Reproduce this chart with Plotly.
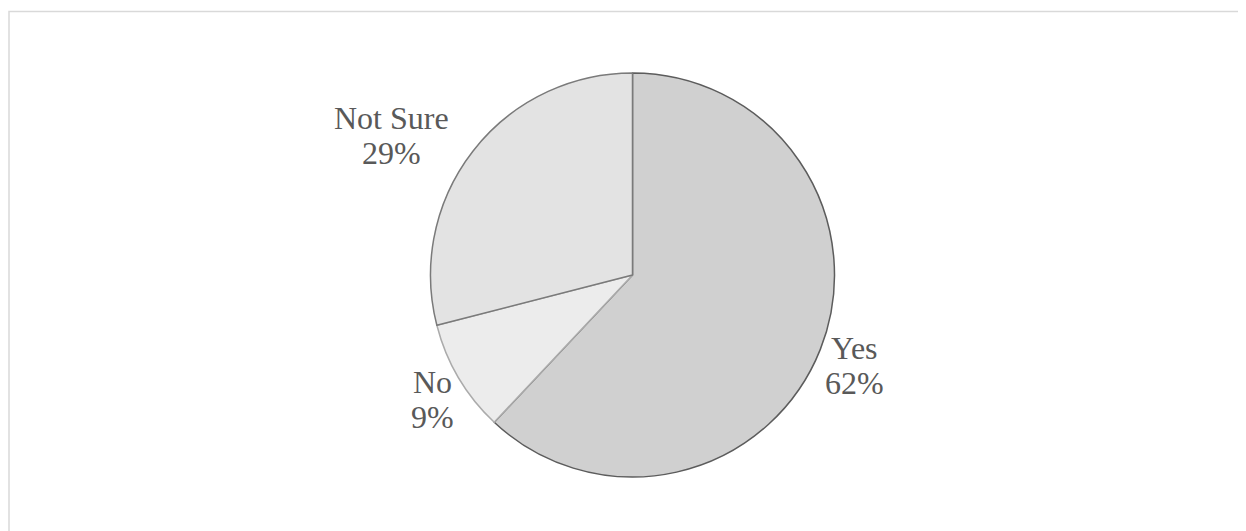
import plotly.graph_objects as go

# page body has an 8px default margin; the figure fills the rest of the window
OFF = 8
W, H = 1246 - OFF, 531 - OFF

labels = ["Yes", "No", "Not Sure"]
values = [62, 9, 29]
pct_text = ["62%", "9%", "29%"]

fill_colors = ["#d0d0d0", "#ececec", "#e3e3e3"]
line_colors = ["#5c5c5c", "#ababab", "#7a7a7a"]

# label anchor points (screen pixels): name line; percent line sits below it
label_px = {"Yes": (855, 348), "No": (432, 382), "Not Sure": (391, 118)}
line_gap = 35

cx, cy, r = 632.5 - OFF, 275 - OFF, 202


def fx(sx):
    return (sx - OFF) / W


def fy(sy):
    return 1 - (sy - OFF) / H


fig = go.Figure(go.Pie(
    labels=labels, values=values, sort=False, direction="clockwise", rotation=0,
    marker=dict(colors=fill_colors, line=dict(color=line_colors, width=1.5)),
    textinfo="none", hoverinfo="label+percent", showlegend=False,
    domain=dict(x=[(cx - r) / W, (cx + r) / W], y=[(H - cy - r) / H, (H - cy + r) / H]),
))

font = dict(family="Liberation Serif, Times New Roman, serif", size=32, color="#595959")
for lab, pt in zip(labels, pct_text):
    px, py = label_px[lab]
    for txt, yy in ((lab, py), (pt, py + line_gap)):
        fig.add_annotation(x=fx(px), y=fy(yy), xref="paper", yref="paper",
                           text=txt, showarrow=False, xanchor="center", yanchor="middle",
                           font=font)

fig.add_shape(type="rect", xref="paper", yref="paper",
              x0=fx(9), y0=-0.05, x1=1.05, y1=fy(11.5),
              line=dict(color="#d9d9d9", width=1.5), fillcolor="rgba(0,0,0,0)")

fig.update_layout(width=W, height=H, margin=dict(l=0, r=0, t=0, b=0),
                  paper_bgcolor="white", plot_bgcolor="white")
fig.write_html("out.html")
